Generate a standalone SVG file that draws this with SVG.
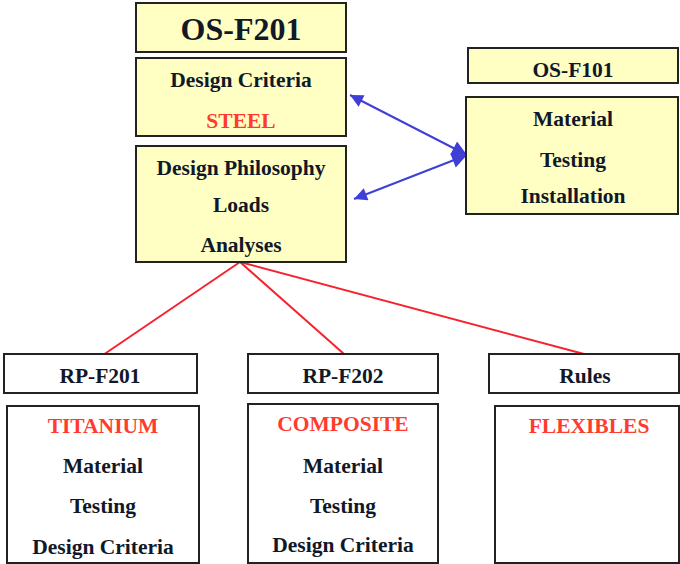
<svg xmlns="http://www.w3.org/2000/svg" width="680" height="564" viewBox="0 0 680 564">
<style>
.y{fill:#ffffc4;stroke:#222;stroke-width:2}
.w{fill:#fff;stroke:#222;stroke-width:2}
text{font-family:"Liberation Serif",serif;font-weight:bold;font-size:21.5px;fill:#111827;text-anchor:middle}
.r{fill:#ff3b2f}
.big{font-size:32px}
.blue{stroke:#3f3fd8;stroke-width:2;fill:none}
.red{stroke:#f5232f;stroke-width:2;fill:none}
</style>
<defs>
<marker id="ah" viewBox="0 0 10 10" refX="10" refY="5" markerWidth="14" markerHeight="13" markerUnits="userSpaceOnUse" orient="auto-start-reverse"><path d="M0,0L10,5L0,10z" fill="#3f3fd8"/></marker>
<marker id="ah2" viewBox="0 0 10 10" refX="10" refY="5" markerWidth="16" markerHeight="15" markerUnits="userSpaceOnUse" orient="auto"><path d="M0,0L10,5L0,10z" fill="#3f3fd8"/></marker>
</defs>
<g id="connectors">
<line class="blue" x1="350" y1="95" x2="467" y2="155" marker-start="url(#ah)" marker-end="url(#ah2)"/>
<line class="blue" x1="354" y1="199" x2="467" y2="155" marker-start="url(#ah)" marker-end="url(#ah2)"/>
<line class="red" x1="240" y1="262" x2="103" y2="355"/>
<line class="red" x1="240" y1="262" x2="344" y2="354"/>
<line class="red" x1="240" y1="262" x2="584" y2="354"/>
</g>
<g id="os-f201"><rect class="y" x="136" y="3" width="210" height="49"/><text class="big" x="241" y="40">OS-F201</text></g>
<g id="design-criteria"><rect class="y" x="136" y="58" width="210" height="78"/><text x="241" y="87">Design Criteria</text><text class="r" x="241" y="128">STEEL</text></g>
<g id="design-philosophy"><rect class="y" x="136" y="146" width="210" height="116"/><text x="241" y="175">Design Philosophy</text><text x="241" y="212">Loads</text><text x="241" y="252">Analyses</text></g>
<g id="os-f101"><rect class="y" x="468" y="48" width="210" height="35"/><text x="573" y="77">OS-F101</text></g>
<g id="material-box"><rect class="y" x="466" y="97" width="212" height="117"/><text x="573" y="126">Material</text><text x="573" y="167">Testing</text><text x="573" y="203">Installation</text></g>
<g id="rp-f201"><rect class="w" x="4" y="354" width="193" height="39"/><text x="100" y="383">RP-F201</text></g>
<g id="titanium"><rect class="w" x="7" y="406" width="192" height="157"/><text class="r" x="103" y="433">TITANIUM</text><text x="103" y="473">Material</text><text x="103" y="513">Testing</text><text x="103" y="554">Design Criteria</text></g>
<g id="rp-f202"><rect class="w" x="248" y="354" width="190" height="39"/><text x="343" y="383">RP-F202</text></g>
<g id="composite"><rect class="w" x="248" y="404" width="190" height="159"/><text class="r" x="343" y="431">COMPOSITE</text><text x="343" y="473">Material</text><text x="343" y="513">Testing</text><text x="343" y="552">Design Criteria</text></g>
<g id="rules"><rect class="w" x="489" y="354" width="190" height="39"/><text x="585" y="383">Rules</text></g>
<g id="flexibles"><rect class="w" x="495" y="406" width="184" height="157"/><text class="r" x="589" y="433">FLEXIBLES</text></g>
</svg>
